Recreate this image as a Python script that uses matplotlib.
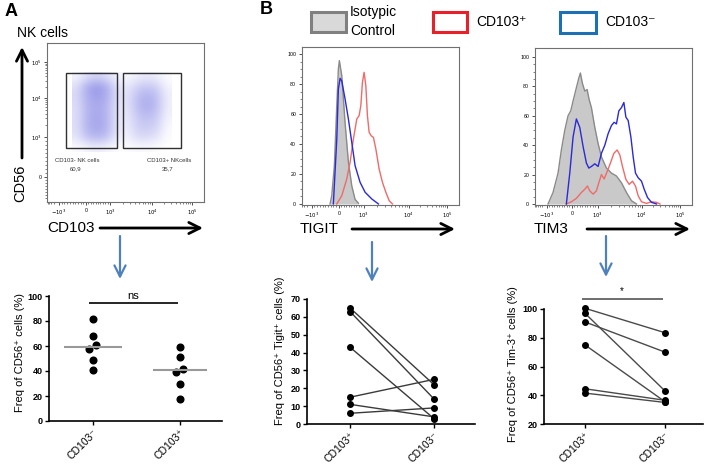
import numpy as np
import matplotlib
matplotlib.use('Agg')
import matplotlib.pyplot as plt
from matplotlib.patches import Rectangle
from matplotlib.colors import LinearSegmentedColormap

plt.rcParams['font.family'] = ['Liberation Sans', 'DejaVu Sans']

# ---------------- data ----------------
# Panel A flow plot: density of NK events (rows top->bottom, cols left->right), channel units
nk_density = [
    [0.10, 0.30, 0.40, 0.30, 0.10, 0.05, 0.15, 0.20, 0.15, 0.02],
    [0.30, 0.80, 1.00, 0.80, 0.30, 0.20, 0.45, 0.55, 0.45, 0.10],
    [0.35, 0.75, 0.90, 0.75, 0.30, 0.25, 0.60, 0.75, 0.60, 0.15],
    [0.30, 0.70, 0.80, 0.70, 0.25, 0.25, 0.60, 0.80, 0.60, 0.15],
    [0.30, 0.70, 0.85, 0.70, 0.25, 0.20, 0.50, 0.60, 0.50, 0.10],
    [0.30, 0.70, 0.85, 0.70, 0.25, 0.15, 0.45, 0.50, 0.40, 0.05],
    [0.25, 0.60, 0.70, 0.60, 0.20, 0.10, 0.35, 0.35, 0.25, 0.02],
    [0.02, 0.10, 0.15, 0.10, 0.02, 0.02, 0.05, 0.05, 0.02, 0.00],
]
density_extent = (25, 125, 50, 130)
gate_neg = (19, 54, 70, 129)    # x0, y0, x1, y1 (channel)
gate_pos = (76, 54, 134, 129)
gate_neg_label, gate_neg_pct = "CD103- NK cells", "60,9"
gate_pos_label, gate_pos_pct = "CD103+ NKcells", "35,7"

flow_tick_labels = ['$-10^3$', '0', '$10^3$', '$10^4$', '$10^5$']
a_x_ticks = [12, 39, 63, 105, 145]
a_y_ticks = [25, 65, 104, 140]
a_y_tick_labels = ['0', '$10^3$', '$10^4$', '$10^5$']

# TIGIT histogram (channel, % of max)
tigit_iso_x = [28.3, 30.0, 32.6, 35.0, 36.6, 37.6, 40.0, 43.3, 46.6, 50.0, 53.3, 56.6]
tigit_iso_y = [0, 5.5, 25.5, 65.5, 90, 95.6, 85.6, 54, 28, 12, 3, 0.5]
tigit_neg_x = [31.6, 35, 36.6, 38.3, 40, 43.3, 46.6, 50, 53.3, 58.3, 63.3, 70, 76.6]
tigit_neg_y = [0, 43, 76.7, 83.8, 82, 70, 56.7, 41, 25.5, 14.4, 7.8, 3.3, 0]
tigit_pos_x = [35, 40, 45, 48.3, 51.6, 55, 57.3, 59, 60.6, 62.3, 64, 65.6, 67.3, 69.3,
               71.6, 74, 77.3, 80.6, 84, 87.3, 90.6]
tigit_pos_y = [0, 5.5, 16.7, 27.8, 43.3, 56.7, 58.9, 65.5, 81, 87.8, 78.9, 58.9, 47.8, 45.5,
               44.4, 36.7, 23.3, 14.4, 7.8, 2.2, 0]
tigit_x_ticks = [10, 37, 62, 107, 145]

# TIM3 histogram
tim3_iso_x = [13.3, 18.3, 23.3, 26.6, 30, 33.3, 36, 38.3, 41.6, 44, 45.6, 47.6, 50, 52.3, 54.3,
              56.6, 60, 63.3, 66.6, 71.6, 76.6, 81.6, 86.6, 91.6, 96.6, 101.6]
tim3_iso_y = [0, 7.8, 21, 36.7, 50, 60, 63.3, 70, 79, 85.5, 89, 82, 76.7, 77.8, 71,
              65.5, 52, 41, 32, 24.4, 21, 19, 14.4, 7.8, 2.2, 0]
tim3_neg_x = [31.6, 35, 38.3, 41.6, 45, 48.3, 51.6, 54, 56.6, 60, 63.3, 66.6, 70, 73.3, 76.6,
              79.3, 81.6, 84, 86.6, 89, 91, 93.3, 96, 98.3, 100.6, 103.3, 106.6, 109.3, 112.6,
              116.6, 121.6]
tim3_neg_y = [0, 21, 45.5, 57.8, 52, 39, 27.8, 24.4, 25.5, 27.3, 25.5, 34.4, 40, 47.8, 53.3,
              55.5, 54.4, 63.3, 65.5, 69, 59, 56.7, 45.5, 32, 21, 17.8, 15.5, 10, 4.4,
              1.1, 0]
tim3_pos_x = [31.6, 36.6, 41.6, 46.6, 50, 52.6, 55, 58.3, 61.6, 64, 66.6, 69.3, 72.3, 75.6,
              79, 82.3, 85, 87.6, 91, 94.3, 97.6, 100.6, 103.3, 106.6, 111.6, 116.6, 121.6, 125]
tim3_pos_y = [0, 1.5, 3.8, 7.8, 10, 12.2, 8.9, 6.7, 8.9, 14.4, 20, 17, 22, 27.8,
              34.4, 36.7, 33.3, 25.5, 16.7, 13.3, 15.5, 12.2, 5.5, 1.5, 0.4, 1.5, 1.1, 0]
tim3_x_ticks = [12, 37, 63, 107, 145]

# Panel A dot plot
a_categories = ['CD103⁻', 'CD103⁺']
a_neg = [82, 68, 58, 61, 49, 41]
a_neg_dx = [0, 0, -0.05, 0.04, 0, 0]
a_pos = [59, 51, 42, 39, 30, 18]
a_pos_dx = [0, 0, 0.03, -0.05, 0, 0]
a_sig_label, a_sig_level = 'ns', 94.6

# Paired plots
b_categories = ['CD103⁺', 'CD103⁻']
tigit_cd103pos = [65, 63, 43, 15, 11, 6]
tigit_cd103neg = [22, 14, 3, 25, 4, 9]
tim3_cd103pos = [100.5, 97, 91, 75, 44.5, 41.5]
tim3_cd103neg = [83.5, 43, 70, 35.5, 36.5, 35]
tim3_sig_label, tim3_sig_level = '*', 107

# ---------------- figure ----------------
W, H = 708, 468
fig = plt.figure(figsize=(7.08, 4.68), dpi=100)


def rect(l, t, r, b):
    return [l / W, 1 - b / H, (r - l) / W, (b - t) / H]


def biex_minor(c):
    cm3, c0, c3, c4, c5 = c
    out = []
    for v in range(100, 1000, 100):
        out.append(c0 + v / 1000 * (c3 - c0))
        out.append(c0 - v / 1000 * (c0 - cm3))
    for k in range(2, 10):
        out.append(c3 + np.log10(k) * (c4 - c3))
        out.append(c4 + np.log10(k) * (c5 - c4))
        out.append(cm3 - np.log10(k) * (c0 - cm3) * 0.6)
    return out


def style_flow(ax, xt):
    for s in ax.spines.values():
        s.set_color('#707070')
        s.set_linewidth(0.8)
    ax.set_xticks(xt)
    ax.set_xticklabels(flow_tick_labels)
    ax.set_xticks([m for m in biex_minor(xt) if 0 < m < 157], minor=True)
    ax.tick_params(axis='both', which='major', length=2.5, width=0.7, color='#505050',
                   labelsize=3.8, pad=1.5, direction='out')
    ax.tick_params(axis='both', which='minor', length=1.5, width=0.5, color='#505050',
                   direction='out')


# ---- Panel A flow plot ----
axf = fig.add_axes(rect(47, 43, 204, 202))
cmap = LinearSegmentedColormap.from_list('nk', ['#ffffff', '#8a8ae6'])
axf.imshow(np.array(nk_density), extent=density_extent, origin='upper', cmap=cmap,
           interpolation='bicubic', vmin=0, vmax=1.1, aspect='auto', zorder=1)
for g in (gate_neg, gate_pos):
    axf.add_patch(Rectangle((g[0], g[1]), g[2] - g[0], g[3] - g[1], fill=False,
                            ec='#303030', lw=1.0, zorder=3))
axf.set_xlim(0, 157)
axf.set_ylim(0, 159)
style_flow(axf, a_x_ticks)
axf.set_yticks(a_y_ticks)
axf.set_yticklabels(a_y_tick_labels)
axf.set_yticks([25 + k * 4 for k in range(1, 10)] + [65 + np.log10(k) * 39 for k in range(2, 10)]
               + [104 + np.log10(k) * 36 for k in range(2, 10)] + [25 - k * 3 for k in range(1, 8)],
               minor=True)

# ---- Histograms ----
def hist_axes(r, iso, neg, pos, xt, ymax):
    ax = fig.add_axes(r)
    ax.fill_between(iso[0], iso[1], color='#c9c9c9', lw=0, zorder=1)
    ax.plot(iso[0], iso[1], color='#8a8a8a', lw=1.0, zorder=2)
    ax.plot(pos[0], pos[1], color='#f06a6a', lw=1.0, zorder=3)
    ax.plot(neg[0], neg[1], color='#2a2ad6', lw=1.0, zorder=4)
    ax.set_xlim(0, 157)
    ax.set_ylim(-0.7, ymax)
    style_flow(ax, xt)
    ax.set_yticks(range(0, 101, 20))
    ax.set_yticks(range(0, 101, 5), minor=True)
    return ax

hist_axes(rect(301.7, 47, 459, 205), (tigit_iso_x, tigit_iso_y), (tigit_neg_x, tigit_neg_y),
          (tigit_pos_x, tigit_pos_y), tigit_x_ticks, 104.7)
hist_axes(rect(534.7, 48, 692, 205), (tim3_iso_x, tim3_iso_y), (tim3_neg_x, tim3_neg_y),
          (tim3_pos_x, tim3_pos_y), tim3_x_ticks, 106)


# ---- Bottom dot plots ----
def style_dot(ax, cats, yt):
    for s in ('top', 'right'):
        ax.spines[s].set_visible(False)
    for s in ('left', 'bottom'):
        ax.spines[s].set_linewidth(1.2)
    ax.set_xticks(range(len(cats)))
    ax.set_xticklabels(cats, rotation=45, ha='right', rotation_mode='anchor', fontsize=7.5)
    ax.set_yticks(yt)
    ax.tick_params(axis='y', labelsize=6.5, length=3, width=1, pad=1.5)
    ax.tick_params(axis='x', length=3, width=1, pad=2)
    for t in ax.get_yticklabels():
        t.set_fontweight('bold')


axa = fig.add_axes(rect(49, 296, 222, 421))
axa.plot(np.zeros(len(a_neg)) + np.array(a_neg_dx), a_neg, 'o', color='black', ms=4.8, clip_on=False)
axa.plot(np.ones(len(a_pos)) + np.array(a_pos_dx), a_pos, 'o', color='black', ms=4.8, clip_on=False)
axa.hlines([np.median(a_neg)], -0.33, 0.33, color='#999999', lw=1.5)
axa.hlines([np.median(a_pos)], 0.69, 1.31, color='#999999', lw=1.5)
axa.hlines([a_sig_level], -0.05, 0.98, color='black', lw=1.2, clip_on=False)
axa.text(0.46, a_sig_level + 1.5, a_sig_label, ha='center', va='bottom', fontsize=8, clip_on=False)
axa.set_xlim(-0.506, 1.483)
axa.set_ylim(0, 100)
style_dot(axa, a_categories, range(0, 101, 20))

axt = fig.add_axes(rect(307, 299, 475, 424))
for p, n in zip(tigit_cd103pos, tigit_cd103neg):
    axt.plot([0, 1], [p, n], '-o', color='#3a3a3a', lw=1.0, mfc='black', mec='black', ms=4,
             clip_on=False)
axt.set_xlim(-0.512, 1.488)
axt.set_ylim(0, 70)
style_dot(axt, b_categories, range(0, 71, 10))

axm = fig.add_axes(rect(544, 309, 703, 424))
for p, n in zip(tim3_cd103pos, tim3_cd103neg):
    axm.plot([0, 1], [p, n], '-o', color='#4a4a4a', lw=1.0, mfc='black', mec='black', ms=4,
             clip_on=False)
axm.hlines([tim3_sig_level], -0.04, 0.975, color='#555555', lw=1.2, clip_on=False)
axm.text(0.46, tim3_sig_level + 2, tim3_sig_label, ha='center', va='bottom', fontsize=7,
         clip_on=False)
axm.set_xlim(-0.5125, 1.475)
axm.set_ylim(20, 100)
style_dot(axm, b_categories, range(20, 101, 20))

# ---- overlay: labels, arrows, legend (pixel coordinates) ----
ov = fig.add_axes([0, 0, 1, 1], zorder=10)
ov.set_xlim(0, W)
ov.set_ylim(H, 0)
ov.axis('off')
ov.patch.set_alpha(0)

ov.text(5, 11, 'A', fontsize=13, fontweight='bold', va='center', ha='left')
ov.text(260, 10, 'B', fontsize=13, fontweight='bold', va='center', ha='left')
ov.text(17, 33, 'NK cells', fontsize=10, va='center', ha='left')
ov.text(20, 183, 'CD56', fontsize=10.5, rotation=90, va='center', ha='center')
ov.text(47, 228, 'CD103', fontsize=11, va='center', ha='left')
ov.text(300, 229, 'TIGIT', fontsize=11, va='center', ha='left')
ov.text(534, 229, 'TIM3', fontsize=11, va='center', ha='left')

ov.text(55, 160, gate_neg_label, fontsize=4.3, va='center', ha='left', color='#333333')
ov.text(76, 169, gate_neg_pct, fontsize=4.3, va='center', ha='center', color='#333333')
ov.text(147, 160, gate_pos_label, fontsize=4.3, va='center', ha='left', color='#333333')
ov.text(168, 169, gate_pos_pct, fontsize=4.3, va='center', ha='center', color='#333333')

black_arrow = dict(arrowstyle='->,head_length=0.8,head_width=0.4', lw=2, color='black',
                   shrinkA=0, shrinkB=0)
ov.annotate('', xy=(22, 47), xytext=(22, 158), arrowprops=black_arrow)
ov.annotate('', xy=(203, 228), xytext=(100, 228), arrowprops=black_arrow)
ov.annotate('', xy=(455, 229), xytext=(352, 229), arrowprops=black_arrow)
ov.annotate('', xy=(690, 229), xytext=(587, 229), arrowprops=black_arrow)

blue_arrow = dict(arrowstyle='->,head_length=0.8,head_width=0.4', lw=1.6, color='#4f81bd',
                  shrinkA=0, shrinkB=0)
ov.annotate('', xy=(120, 279), xytext=(120, 236), arrowprops=blue_arrow)
ov.annotate('', xy=(372, 282), xytext=(372, 242), arrowprops=blue_arrow)
ov.annotate('', xy=(606, 277), xytext=(606, 236), arrowprops=blue_arrow)

ov.add_patch(Rectangle((311, 12), 35, 20, fc='#d9d9d9', ec='#808080', lw=2.2))
ov.add_patch(Rectangle((433, 12), 34, 20, fc='white', ec='#e8202a', lw=2.2))
ov.add_patch(Rectangle((560, 12), 36, 21, fc='white', ec='#1f6fb5', lw=2.2))
ov.text(350, 12, 'Isotypic', fontsize=10, va='center', ha='left')
ov.text(350, 31, 'Control', fontsize=10, va='center', ha='left')
ov.text(476, 22, 'CD103⁺', fontsize=10, va='center', ha='left')
ov.text(605, 22, 'CD103⁻', fontsize=10, va='center', ha='left')

ov.text(20, 353, 'Freq of CD56⁺ cells (%)', fontsize=8, rotation=90, va='center', ha='center')
ov.text(280, 351, 'Freq of CD56⁺ Tigit⁺ cells (%)', fontsize=8, rotation=90, va='center',
        ha='center')
ov.text(513, 364, 'Freq of CD56⁺ Tim-3⁺ cells (%)', fontsize=8, rotation=90, va='center',
        ha='center')

fig.savefig('out.png', dpi=100)
